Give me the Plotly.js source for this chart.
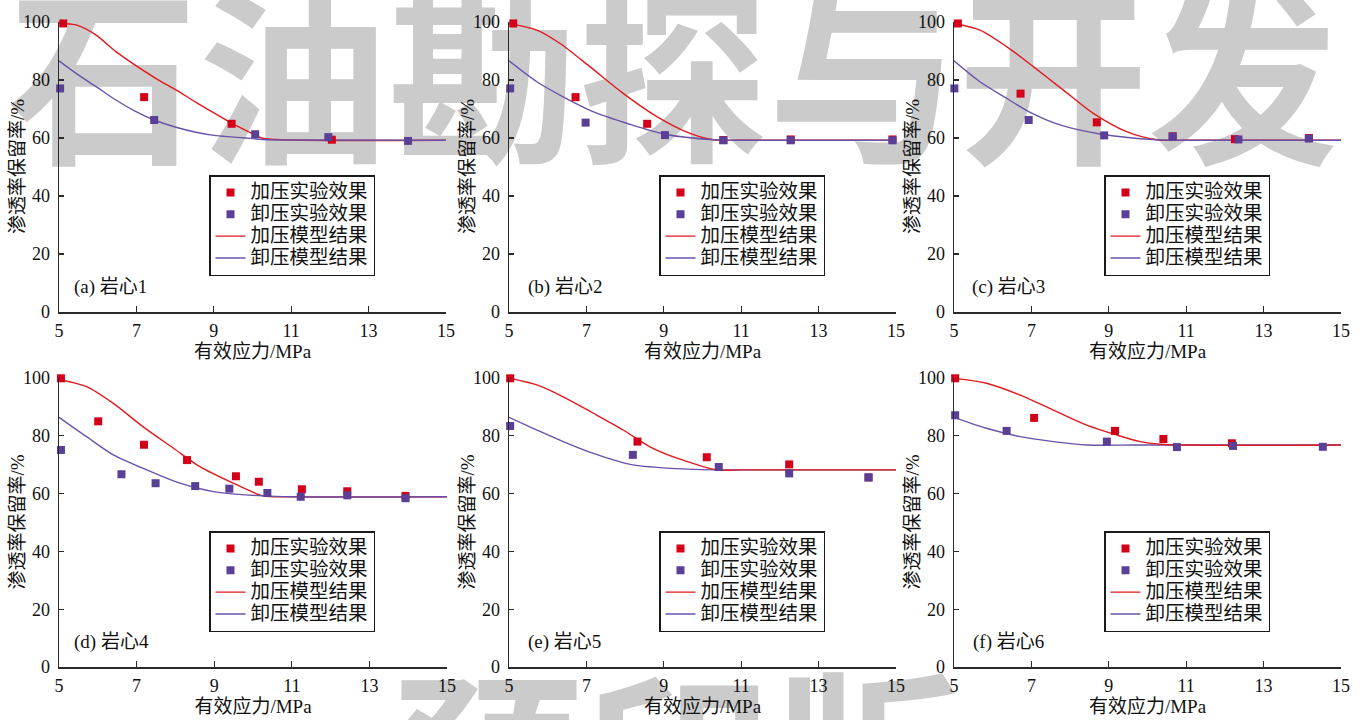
<!DOCTYPE html>
<html>
<head>
<meta charset="utf-8">
<script src="https://cdn.plot.ly/plotly-3.0.1.min.js"></script>
<style>
  html, body { margin: 0; padding: 0; background: #ffffff; }
  #wrap { position: relative; width: 1367px; height: 720px; overflow: hidden; }
  .wm { position: absolute; white-space: nowrap; font-family: "Noto Sans CJK SC"; font-weight: 700;
        font-size: 190px; line-height: 190px; color: #cbcbcb; }
  #chart { position: absolute; left: 0; top: 0; width: 1367px; height: 720px; }
</style>
</head>
<body>
<div id="wrap">
  <div class="wm" style="left:8px; top:-28px;">石油勘探与开发</div>
  <div class="wm" style="left:392px; top:657px;">预印版</div>
  <div id="chart"></div>
</div>
<script>
// Permeability retention vs. effective stress for six cores
const legendNames = ['加压实验效果', '卸压实验效果', '加压模型结果', '卸压模型结果'];
const panelLabels = ['(a) 岩心1', '(b) 岩心2', '(c) 岩心3', '(d) 岩心4', '(e) 岩心5', '(f) 岩心6'];
const xTitle = '有效应力/MPa';
const yTitle = '渗透率保留率/%';
const xTicks = [5, 7, 9, 11, 13, 15];
const yTicks = [0, 20, 40, 60, 80, 100];

// Core 1
const loadExpX1 = [5.11, 7.20, 9.46, 12.05];
const loadExpY1 = [99.5, 74.1, 64.9, 59.4];
const unloadExpX1 = [5.03, 7.46, 10.07, 11.96, 14.02];
const unloadExpY1 = [77.1, 66.2, 61.3, 60.3, 59.0];
const loadModelX1 = [5.0, 5.44, 5.96, 6.47, 7.51, 8.02, 8.54, 9.06, 9.46, 9.92, 10.26, 11.0, 15.0];
const loadModelY1 = [99.5, 99.0, 95.5, 89.8, 80.5, 76.6, 72.3, 68.2, 65.1, 62.0, 59.9, 59.3, 59.2];
const unloadModelX1 = [5.0, 5.44, 5.96, 6.47, 6.99, 7.46, 8.02, 8.54, 9.06, 9.75, 10.26, 11.0, 15.0];
const unloadModelY1 = [86.6, 82.3, 77.7, 73.1, 69.1, 66.2, 63.7, 62.0, 60.8, 60.1, 59.5, 59.3, 59.2];

// Core 2
const loadExpX2 = [5.11, 6.72, 8.57, 10.54, 12.28, 14.91];
const loadExpY2 = [99.5, 74.1, 64.9, 59.3, 59.5, 59.5];
const unloadExpX2 = [5.03, 6.98, 9.03, 10.54, 12.28, 14.91];
const unloadExpY2 = [77.1, 65.3, 61.0, 59.2, 59.2, 59.2];
const loadModelX2 = [5.0, 5.72, 6.32, 7.09, 7.95, 8.82, 9.68, 10.28, 11.0, 15.0];
const loadModelY2 = [99.5, 97.2, 92.6, 84.6, 75.4, 67.4, 61.6, 59.4, 59.2, 59.2];
const unloadModelX2 = [5.0, 5.72, 6.40, 7.17, 8.04, 9.03, 10.28, 11.0, 15.0];
const unloadModelY2 = [86.6, 79.4, 74.2, 69.1, 65.1, 61.3, 59.4, 59.2, 59.2];

// Core 3
const loadExpX3 = [5.10, 6.72, 8.69, 10.65, 12.26, 14.17];
const loadExpY3 = [99.5, 75.3, 65.4, 60.6, 59.6, 60.0];
const unloadExpX3 = [5.01, 6.93, 8.88, 10.65, 12.35, 14.17];
const unloadExpY3 = [77.1, 66.2, 60.9, 60.5, 59.5, 59.8];
const loadModelX3 = [5.0, 5.67, 6.36, 7.05, 7.82, 8.60, 9.46, 10.24, 11.0, 15.0];
const loadModelY3 = [99.5, 97.2, 91.5, 84.6, 76.6, 68.5, 62.2, 59.4, 59.2, 59.2];
const unloadModelX3 = [5.0, 5.67, 6.36, 6.93, 7.74, 8.77, 10.24, 11.0, 15.0];
const unloadModelY3 = [86.6, 79.4, 73.7, 69.1, 64.5, 61.4, 59.4, 59.2, 59.2];

// Core 4
const loadExpX4 = [5.05, 6.01, 7.19, 8.30, 9.56, 10.15, 11.26, 12.43, 13.93];
const loadExpY4 = [99.9, 85.0, 76.9, 71.6, 66.0, 64.1, 61.5, 60.8, 59.2];
const unloadExpX4 = [5.05, 6.61, 7.49, 8.51, 9.39, 10.37, 11.23, 12.43, 13.93];
const unloadExpY4 = [75.1, 66.7, 63.6, 62.6, 61.7, 60.2, 58.9, 59.4, 58.4];
const loadModelX4 = [5.0, 5.71, 6.40, 7.17, 7.95, 8.63, 9.49, 10.27, 11.0, 15.0];
const loadModelY4 = [99.5, 97.0, 91.2, 83.1, 75.7, 69.3, 63.6, 59.2, 58.9, 58.9];
const unloadModelX4 = [5.0, 5.71, 6.40, 7.26, 8.12, 8.98, 10.27, 11.0, 15.0];
const unloadModelY4 = [86.4, 79.7, 73.4, 68.2, 63.6, 60.7, 59.2, 58.9, 58.9];

// Core 5
const loadExpX5 = [5.03, 8.32, 10.11, 12.24, 14.29];
const loadExpY5 = [99.9, 78.0, 72.6, 70.1, 65.6];
const unloadExpX5 = [5.03, 8.20, 10.42, 12.24, 14.29];
const unloadExpY5 = [83.4, 73.4, 69.2, 67.0, 65.6];
const loadModelX5 = [5.0, 5.72, 6.40, 7.18, 7.95, 8.64, 9.42, 10.37, 11.0, 15.0];
const loadModelY5 = [100.0, 97.6, 93.5, 87.8, 82.0, 76.2, 71.9, 68.2, 68.2, 68.2];
const unloadModelX5 = [5.0, 5.72, 6.40, 7.18, 8.13, 9.07, 10.37, 11.0, 15.0];
const unloadModelY5 = [86.4, 82.0, 78.0, 73.9, 70.1, 68.8, 68.2, 68.2, 68.2];

// Core 6
const loadExpX6 = [5.03, 7.07, 9.16, 10.41, 12.18];
const loadExpY6 = [99.9, 86.2, 81.7, 78.9, 77.4];
const unloadExpX6 = [5.03, 6.36, 8.95, 10.76, 12.21, 14.53];
const unloadExpY6 = [87.1, 81.7, 78.0, 76.1, 76.5, 76.2];
const loadModelX6 = [5.0, 5.84, 6.71, 7.57, 8.43, 9.20, 9.81, 10.32, 11.0, 15.0];
const loadModelY6 = [99.9, 98.2, 94.1, 88.9, 83.7, 80.3, 78.0, 77.1, 76.8, 76.8];
const unloadModelX6 = [5.0, 5.84, 6.71, 7.57, 8.43, 9.63, 11.0, 15.0];
const unloadModelY6 = [86.4, 82.6, 79.7, 78.0, 76.8, 76.8, 76.8, 76.8];

const cores = [
  {lx: loadExpX1, ly: loadExpY1, ux: unloadExpX1, uy: unloadExpY1, lmx: loadModelX1, lmy: loadModelY1, umx: unloadModelX1, umy: unloadModelY1},
  {lx: loadExpX2, ly: loadExpY2, ux: unloadExpX2, uy: unloadExpY2, lmx: loadModelX2, lmy: loadModelY2, umx: unloadModelX2, umy: unloadModelY2},
  {lx: loadExpX3, ly: loadExpY3, ux: unloadExpX3, uy: unloadExpY3, lmx: loadModelX3, lmy: loadModelY3, umx: unloadModelX3, umy: unloadModelY3},
  {lx: loadExpX4, ly: loadExpY4, ux: unloadExpX4, uy: unloadExpY4, lmx: loadModelX4, lmy: loadModelY4, umx: unloadModelX4, umy: unloadModelY4},
  {lx: loadExpX5, ly: loadExpY5, ux: unloadExpX5, uy: unloadExpY5, lmx: loadModelX5, lmy: loadModelY5, umx: unloadModelX5, umy: unloadModelY5},
  {lx: loadExpX6, ly: loadExpY6, ux: unloadExpX6, uy: unloadExpY6, lmx: loadModelX6, lmy: loadModelY6, umx: unloadModelX6, umy: unloadModelY6}
];

const W = 1367, H = 720;
const RED_MK = '#d4001a', PUR_MK = '#5a3f97';
const RED_LN = '#e01a1e', PUR_LN = '#6a52a8';
const SERIF = '"Liberation Serif", "Times New Roman", "Noto Sans CJK SC", serif';
const CJK = '"Liberation Serif", "Noto Sans CJK SC", sans-serif';

// plot-area pixel boxes: [left, right, top, bottom]
const boxes = [
  [59, 446, 22, 312], [509, 896, 22, 312], [954, 1341, 22, 312],
  [59, 447, 378, 667], [509, 896, 378, 667], [954, 1341, 378, 667]
];
const labelPos = [0.034, 0.044, 0.041, 0.034, 0.044, 0.044];
const legendPos = [[209, 175], [659, 175], [1104, 175], [209, 531], [659, 531], [1104, 531]];

// legend entries: compact rows with larger glyphs
const legendLabel = s => '<span style="font-size:19.5px">' + s + '</span>';

const traces = [];
const layout = {
  width: W, height: H,
  margin: {l: 0, r: 0, t: 0, b: 0},
  paper_bgcolor: 'rgba(0,0,0,0)',
  plot_bgcolor: 'rgba(0,0,0,0)',
  font: {family: SERIF, size: 18, color: '#111'},
  annotations: [],
  showlegend: true
};

cores.forEach((c, i) => {
  const n = i + 1;
  const xa = n === 1 ? 'x' : 'x' + n;
  const ya = n === 1 ? 'y' : 'y' + n;
  const lg = n === 1 ? 'legend' : 'legend' + n;
  const b = boxes[i];

  const redLine = {x: c.lmx, y: c.lmy, xaxis: xa, yaxis: ya, mode: 'lines', name: legendLabel(legendNames[2]),
    line: {color: RED_LN, width: 1.4, shape: 'spline', smoothing: 0.8}, legend: lg, legendrank: 3, hoverinfo: 'skip'};
  const purLine = {x: c.umx, y: c.umy, xaxis: xa, yaxis: ya, mode: 'lines', name: legendLabel(legendNames[3]),
    line: {color: PUR_LN, width: 1.4, shape: 'spline', smoothing: 0.8}, legend: lg, legendrank: 4, hoverinfo: 'skip'};
  // later panels show the loading curve over the unloading plateau
  if (n >= 5) { traces.push(purLine, redLine); } else { traces.push(redLine, purLine); }

  traces.push({x: c.lx, y: c.ly, xaxis: xa, yaxis: ya, mode: 'markers', name: legendLabel(legendNames[0]),
    marker: {symbol: 'square', size: 8, color: RED_MK}, cliponaxis: false, legend: lg, legendrank: 1});
  traces.push({x: c.ux, y: c.uy, xaxis: xa, yaxis: ya, mode: 'markers', name: legendLabel(legendNames[1]),
    marker: {symbol: 'square', size: 8, color: PUR_MK}, cliponaxis: false, legend: lg, legendrank: 2});

  const axisCommon = {showline: true, linecolor: '#2a2a2a', linewidth: 1.5, showgrid: false, zeroline: false,
    ticks: 'inside', tickcolor: '#2a2a2a', tickwidth: 1.3, mirror: false,
    tickfont: {family: SERIF, size: 18, color: '#111'}};

  layout[n === 1 ? 'xaxis' : 'xaxis' + n] = Object.assign({}, axisCommon, {
    domain: [b[0] / W, b[1] / W], anchor: ya, range: [5, 15], tickvals: xTicks, ticklen: 6,
    ticklabelstandoff: 2,
    title: {text: xTitle, font: {family: CJK, size: 19, color: '#111'}, standoff: 4}
  });
  layout[n === 1 ? 'yaxis' : 'yaxis' + n] = Object.assign({}, axisCommon, {
    domain: [1 - b[3] / H, 1 - b[2] / H], anchor: xa, range: [0, 100], tickvals: yTicks, ticklen: 5,
    ticklabelstandoff: 4
  });

  layout[lg] = {
    x: legendPos[i][0] / W, y: 1 - legendPos[i][1] / H, xanchor: 'left', yanchor: 'top',
    xref: 'paper', yref: 'paper',
    bgcolor: '#ffffff', bordercolor: '#1a1a1a', borderwidth: 1.5,
    font: {family: CJK, size: 14.5, color: '#111'},
    traceorder: 'normal', tracegroupgap: 0, itemwidth: 30
  };

  // vertical axis title, set just left of the tick labels
  layout.annotations.push({
    text: yTitle, xref: 'paper', yref: ya + ' domain',
    x: (b[0] - 42) / W, y: 0.5, xanchor: 'center', yanchor: 'middle', textangle: -90, showarrow: false,
    font: {family: CJK, size: 19, color: '#111'}
  });

  layout.annotations.push({
    text: panelLabels[i], xref: xa + ' domain', yref: ya + ' domain',
    x: labelPos[i], y: 0.085, xanchor: 'left', yanchor: 'middle', showarrow: false,
    font: {family: CJK, size: 19, color: '#111'}
  });
});

Plotly.newPlot('chart', traces, layout, {staticPlot: true, displayModeBar: false});
</script>
</body>
</html>
